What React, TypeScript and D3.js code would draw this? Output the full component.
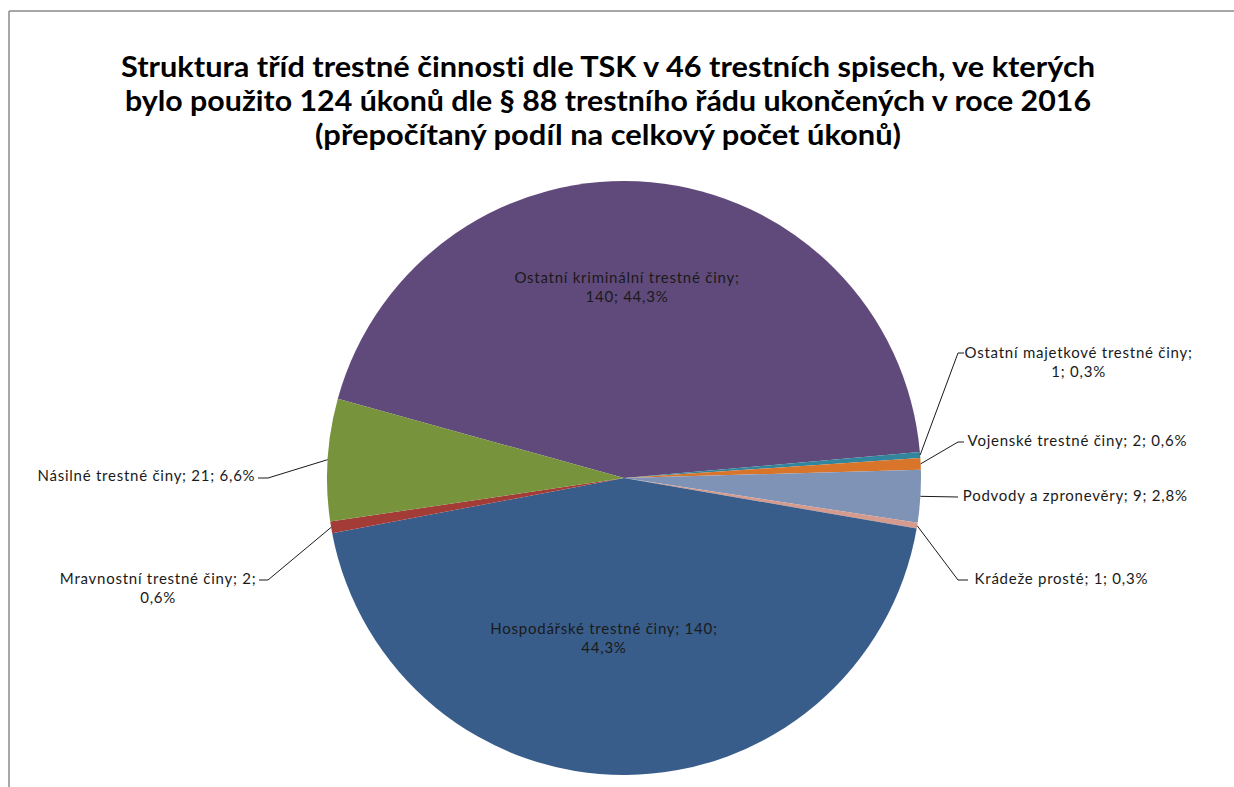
import React from "react";
import * as d3 from "d3";

const titleLines = [
  "Struktura tříd trestné činnosti dle TSK v 46 trestních spisech, ve kterých",
  "bylo použito 124 úkonů dle § 88 trestního řádu ukončených v roce 2016",
  "(přepočítaný podíl na celkový počet úkonů)",
];

const categories = [
  "Ostatní kriminální trestné činy",
  "Ostatní majetkové trestné činy",
  "Vojenské trestné činy",
  "Podvody a zpronevěry",
  "Krádeže prosté",
  "Hospodářské trestné činy",
  "Mravnostní trestné činy",
  "Násilné trestné činy",
];
const values = [140, 1, 2, 9, 1, 140, 2, 21];
const percents = ["44,3%", "0,3%", "0,6%", "2,8%", "0,3%", "44,3%", "0,6%", "6,6%"];
// number of label parts (category; value; percent) on the first line
const breakAfter = [1, 1, 3, 3, 3, 2, 2, 3];

const colors = ["#604A7B", "#31859C", "#D9752A", "#7F93B6", "#D59B8E", "#385D8A", "#A33B36", "#77933C"];

// side: "center" = x is block centre; "left" = x is block left edge; "right" = x is block right edge
type Lay = { x: number; y: number; side: "center" | "left" | "right"; leader?: [number, number][] };
const layout: Lay[] = [
  { x: 627, y: 283, side: "center" },
  { x: 965, y: 358, side: "left", leader: [[958, 353], [964, 353]] },
  { x: 968, y: 446, side: "left", leader: [[958, 442], [964, 442]] },
  { x: 963, y: 501, side: "left", leader: [[958, 497]] },
  { x: 975, y: 584, side: "left", leader: [[958, 580], [968, 580]] },
  { x: 604, y: 634, side: "center" },
  { x: 256, y: 584, side: "right", leader: [[268, 580], [259, 580]] },
  { x: 255, y: 481, side: "right", leader: [[268, 478], [258, 478]] },
];

const titleWidths = [974, 966, 586];

const W = 1234;
const H = 787;
const cx = 624;
const cy = 478;
const R = 297;
const startDeg = -74.5;

const font = "Lato, 'Open Sans', sans-serif";
const labelSize = 15;
const labelSpacing = 0.75;
const lineGap = 19;

let ctx: CanvasRenderingContext2D | null = null;
function measure(s: string): number {
  if (!ctx) {
    const c = document.createElement("canvas");
    ctx = c.getContext("2d");
  }
  if (!ctx) return s.length * 7.3;
  ctx.font = `${labelSize}px Lato, 'Open Sans', sans-serif`;
  return ctx.measureText(s).width + labelSpacing * (s.length - 1);
}

export default function App() {
  const pie = d3
    .pie<number>()
    .sort(null)
    .value((d) => d)
    .startAngle((startDeg * Math.PI) / 180)
    .endAngle((startDeg * Math.PI) / 180 + 2 * Math.PI);
  const arcs = pie(values);
  const arc = d3.arc<d3.PieArcDatum<number>>().innerRadius(0).outerRadius(R);

  return (
    <svg
      width={W}
      height={H}
      style={{ position: "absolute", left: 0, top: 0, display: "block", background: "#fff", fontVariantLigatures: "none" }}
    >
      <rect x={0} y={0} width={W} height={H} fill="#fff" />
      <line x1={9} y1={11} x2={W} y2={11} stroke="#8a8a8a" strokeWidth={1.5} />
      <line x1={9} y1={11} x2={9} y2={H} stroke="#8a8a8a" strokeWidth={1.5} />

      {titleLines.map((t, i) => (
        <text
          key={i}
          x={608}
          y={77 + i * 34}
          textAnchor="middle"
          fontFamily={font}
          fontWeight={700}
          fontSize={29}
          fill="#000"
          textLength={titleWidths[i]}
          lengthAdjust="spacingAndGlyphs"
        >
          {t}
        </text>
      ))}

      <g transform={`translate(${cx},${cy})`}>
        {arcs.map((a, i) => (
          <path key={i} d={arc(a) || ""} fill={colors[i]} />
        ))}
      </g>

      {arcs.map((a, i) => {
        const L = layout[i];
        if (!L.leader) return null;
        const mid = (a.startAngle + a.endAngle) / 2;
        const p0: [number, number] = [cx + R * Math.sin(mid), cy - R * Math.cos(mid)];
        const pts = [p0, ...L.leader];
        return (
          <path
            key={"l" + i}
            d={d3.line()(pts) || ""}
            fill="none"
            stroke="#1a1a1a"
            strokeWidth={1}
          />
        );
      })}

      {categories.map((c, i) => {
        const parts = [c, String(values[i]), percents[i]];
        const l1 = parts.slice(0, breakAfter[i]).join("; ") + (breakAfter[i] < 3 ? ";" : "");
        const l2 = parts.slice(breakAfter[i]).join("; ");
        const L = layout[i];
        const lines = l2 ? [l1, l2] : [l1];
        const w = Math.max(...lines.map(measure));
        const centre = L.side === "center" ? L.x : L.side === "left" ? L.x + w / 2 : L.x - w / 2;
        return (
          <text
            key={"t" + i}
            fontFamily={font}
            fontSize={labelSize}
            letterSpacing={labelSpacing}
            fill="#1a1a1a"
            textAnchor="middle"
            x={centre}
            y={L.y}
          >
            {lines.map((ln, j) => (
              <tspan key={j} x={centre} dy={j === 0 ? 0 : lineGap}>
                {ln}
              </tspan>
            ))}
          </text>
        );
      })}
    </svg>
  );
}
